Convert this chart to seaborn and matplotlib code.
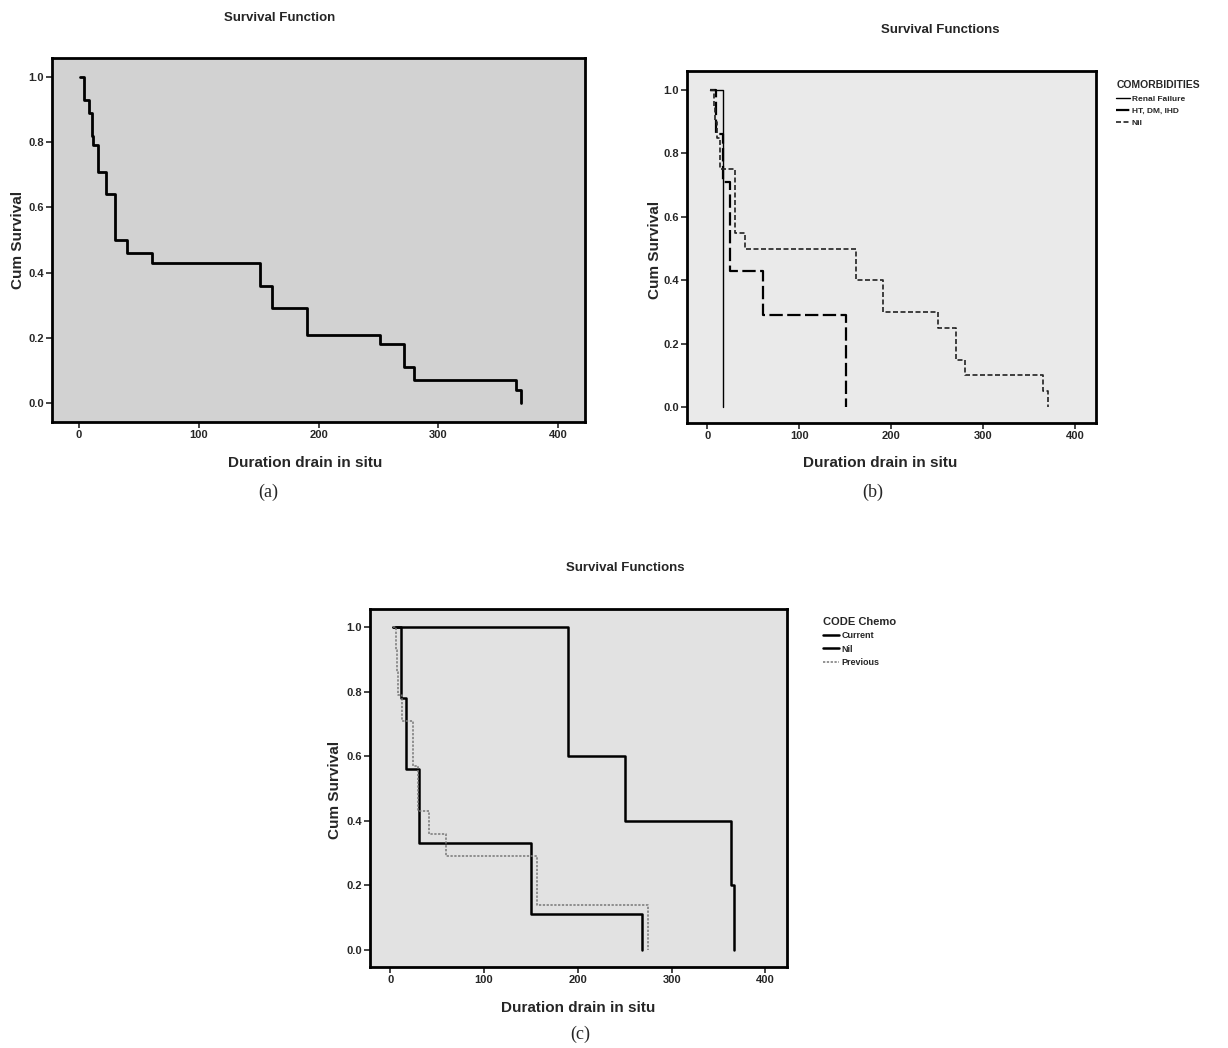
import pandas as pd
import matplotlib.pyplot as plt
import seaborn as sns

# ---- data ----
# (a) all patients
a_time = [1, 4, 8, 11, 12, 16, 23, 30, 40, 61, 151, 161, 190, 251, 271, 280, 365, 369]
a_surv = [1.0, 0.93, 0.89, 0.82, 0.79, 0.71, 0.64, 0.50, 0.46, 0.43, 0.36, 0.29,
          0.21, 0.18, 0.11, 0.07, 0.04, 0.0]

# (b) by comorbidity
b_groups = ["Renal Failure", "HT, DM, IHD", "Nil"]
b_renal_time = [3, 17]
b_renal_surv = [1.0, 0.0]
b_ht_time = [3, 10, 17, 25, 61, 151]
b_ht_surv = [1.0, 0.86, 0.71, 0.43, 0.29, 0.0]
b_nil_time = [3, 7, 9, 11, 14, 30, 41, 162, 191, 251, 271, 280, 365, 371]
b_nil_surv = [1.0, 0.95, 0.90, 0.85, 0.75, 0.55, 0.50, 0.40, 0.30, 0.25, 0.15, 0.10, 0.05, 0.0]

# (c) by chemotherapy status
c_groups = ["Current", "Nil", "Previous"]
c_current_time = [3, 190, 250, 363, 367]
c_current_surv = [1.0, 0.6, 0.4, 0.2, 0.0]
c_nil_time = [3, 12, 17, 31, 150, 268]
c_nil_surv = [1.0, 0.78, 0.56, 0.33, 0.11, 0.0]
c_prev_time = [3, 6, 7, 8, 13, 24, 30, 41, 60, 157, 275]
c_prev_surv = [1.0, 0.93, 0.86, 0.79, 0.71, 0.57, 0.43, 0.36, 0.29, 0.14, 0.0]

x_ticks = [0, 100, 200, 300, 400]
y_ticks = [0.0, 0.2, 0.4, 0.6, 0.8, 1.0]

W, H = 1228, 1048

sns.set_style("white")
plt.rcParams["font.family"] = ["Liberation Sans", "DejaVu Sans"]
plt.rcParams["font.weight"] = "bold"

fig = plt.figure(figsize=(W / 100, H / 100), dpi=100)


def rect(l, t, r, b):
    return [l / W, 1 - b / H, (r - l) / W, (b - t) / H]


def ftext(x, y, s, **kw):
    fig.text(x / W, 1 - y / H, s, ha="center", va="center", **kw)


def style_axes(ax, xlim, ylim, face):
    ax.set_facecolor(face)
    ax.set_xlim(*xlim)
    ax.set_ylim(*ylim)
    ax.set_xticks(x_ticks)
    ax.set_yticks(y_ticks)
    ax.set_yticklabels([f"{v:.1f}" for v in y_ticks])
    ax.tick_params(axis="both", direction="out", length=4, width=1.2,
                   labelsize=8, left=True, bottom=True, pad=2)
    for lab in ax.get_xticklabels() + ax.get_yticklabels():
        lab.set_fontweight("bold")
    for sp in ax.spines.values():
        sp.set_linewidth(2.0)
        sp.set_color("black")
    ax.set_xlabel("")
    ax.set_ylabel("")


def km(ax, t, s, **kw):
    df = pd.DataFrame({"time": t, "surv": s})
    sns.lineplot(data=df, x="time", y="surv", ax=ax, estimator=None, sort=False,
                 drawstyle="steps-post", legend=False, **kw)


# ---------------- (a) ----------------
ax_a = fig.add_axes(rect(52, 58, 585, 422))
km(ax_a, a_time, a_surv, color="black", linewidth=2.0)
style_axes(ax_a, (-22.5, 422.5), (-0.058, 1.058), "#d2d2d2")
ftext(280, 18, "Survival Function", fontsize=9.5, fontweight="bold")
ftext(18, 240, "Cum Survival", fontsize=11, fontweight="bold", rotation=90)
ftext(305, 463, "Duration drain in situ", fontsize=11, fontweight="bold")
ftext(268, 492, "(a)", fontsize=13, fontweight="normal", family="Liberation Serif")

# ---------------- (b) ----------------
ax_b = fig.add_axes(rect(687, 71, 1096, 423))
km(ax_b, b_renal_time, b_renal_surv, color="black", linewidth=1.0)
km(ax_b, b_ht_time, b_ht_surv, color="black", linewidth=1.6, linestyle=(0, (6, 2)))
km(ax_b, b_nil_time, b_nil_surv, color="#222222", linewidth=1.2, linestyle=(0, (3, 1.5)))
style_axes(ax_b, (-22, 423), (-0.05, 1.06), "#eaeaea")
ftext(940, 30, "Survival Functions", fontsize=9.5, fontweight="bold")
ftext(655, 250, "Cum Survival", fontsize=11, fontweight="bold", rotation=90)
ftext(880, 463, "Duration drain in situ", fontsize=11, fontweight="bold")
ftext(873, 492, "(b)", fontsize=13, fontweight="normal", family="Liberation Serif")
leg_b = ax_b.legend(ax_b.get_lines()[:3], b_groups, title="COMORBIDITIES",
                    loc="upper left", bbox_to_anchor=(1112 / W, 1 - 76 / H),
                    bbox_transform=fig.transFigure, frameon=False, fontsize=6,
                    title_fontsize=7.5, handlelength=1.6, handletextpad=0.3,
                    labelspacing=0.55, alignment="left", borderpad=0)
leg_b.get_title().set_fontweight("bold")

# ---------------- (c) ----------------
ax_c = fig.add_axes(rect(370, 609, 787, 967))
km(ax_c, c_current_time, c_current_surv, color="black", linewidth=1.8)
km(ax_c, c_nil_time, c_nil_surv, color="black", linewidth=1.8)
km(ax_c, c_prev_time, c_prev_surv, color="#777777", linewidth=1.1, linestyle=(0, (1.5, 1)))
style_axes(ax_c, (-21.5, 423), (-0.053, 1.056), "#e2e2e2")
ftext(625, 568, "Survival Functions", fontsize=9.5, fontweight="bold")
ftext(335, 790, "Cum Survival", fontsize=11, fontweight="bold", rotation=90)
ftext(578, 1008, "Duration drain in situ", fontsize=11, fontweight="bold")
ftext(580, 1034, "(c)", fontsize=13, fontweight="normal", family="Liberation Serif")
leg_c = ax_c.legend(ax_c.get_lines()[:3], c_groups, title="CODE Chemo",
                    loc="upper left", bbox_to_anchor=(818 / W, 1 - 612 / H),
                    bbox_transform=fig.transFigure, frameon=False, fontsize=6.5,
                    title_fontsize=8, handlelength=1.8, handletextpad=0.3,
                    labelspacing=0.5, alignment="left", borderpad=0)
leg_c.get_title().set_fontweight("bold")

fig.savefig("out.png", dpi=100, facecolor="white")
